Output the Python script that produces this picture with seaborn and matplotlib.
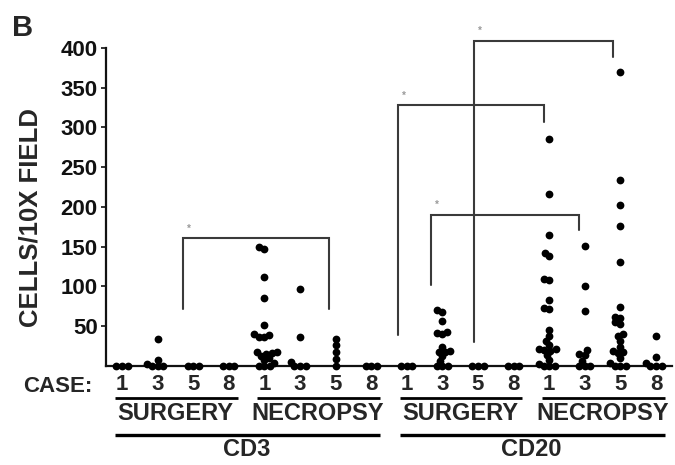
import matplotlib
matplotlib.use("Agg")
import matplotlib.pyplot as plt
import matplotlib.transforms as mtransforms
import numpy as np
import pandas as pd
import seaborn as sns

# ---- data: cells per 10X field, one list per marker / tissue source / case ----
cases = ["1", "3", "5", "8"]
markers = ["CD3", "CD20"]
sources = ["SURGERY", "NECROPSY"]

cd3_surgery_1 = [0, 0, 0]
cd3_surgery_3 = [34, 7, 3, 0, 0, 0]
cd3_surgery_5 = [0, 0, 0]
cd3_surgery_8 = [0, 0, 0]
cd3_necropsy_1 = [150, 147, 112, 86, 52, 40, 39, 37, 36, 18, 17, 16, 15, 12, 10, 7, 4, 0, 0, 0]
cd3_necropsy_3 = [97, 36, 5, 0, 0, 0]
cd3_necropsy_5 = [34, 27, 18, 9, 0]
cd3_necropsy_8 = [0, 0, 0]

cd20_surgery_1 = [0, 0, 0]
cd20_surgery_3 = [70, 68, 57, 43, 42, 40, 24, 19, 18, 17, 12, 6, 0, 0, 0]
cd20_surgery_5 = [0, 0, 0]
cd20_surgery_8 = [0, 0, 0]
cd20_necropsy_1 = [286, 216, 165, 142, 138, 110, 108, 83, 73, 72, 45, 38, 32, 27,
                   22, 21, 20, 19, 14, 8, 3, 0, 0, 0]
cd20_necropsy_3 = [151, 100, 69, 20, 15, 14, 6, 0, 0, 0]
cd20_necropsy_5 = [370, 234, 203, 176, 131, 74, 62, 60, 55, 53, 40, 38, 32, 24,
                   19, 18, 16, 10, 4, 0, 0, 0]
cd20_necropsy_8 = [38, 11, 4, 0, 0, 0]

groups_values = [
    cd3_surgery_1, cd3_surgery_3, cd3_surgery_5, cd3_surgery_8,
    cd3_necropsy_1, cd3_necropsy_3, cd3_necropsy_5, cd3_necropsy_8,
    cd20_surgery_1, cd20_surgery_3, cd20_surgery_5, cd20_surgery_8,
    cd20_necropsy_1, cd20_necropsy_3, cd20_necropsy_5, cd20_necropsy_8,
]

# significance brackets: (left group, right group, bar height, left leg end, right leg end)
brackets = [
    (2, 6, 161, 72, 72),
    (8, 12, 328, 39, 307),
    (9, 13, 190, 102, 171),
    (10, 14, 409, 30, 389),
]
bracket_shift = [(-0.29, -0.19), (-0.25, -0.15), (-0.32, -0.16), (-0.11, -0.21)]

yticks = [50, 100, 150, 200, 250, 300, 350, 400]

# ---- tidy table ----
group_names = [f"{m} {s} {c}" for m in markers for s in sources for c in cases]
rows = []
for name, vals in zip(group_names, groups_values):
    for v in vals:
        rows.append({"group": name, "value": v})
df = pd.DataFrame(rows)

# ---- figure ----
sns.set_style("white")
plt.rcParams["font.family"] = ["Liberation Sans", "DejaVu Sans"]
plt.rcParams["font.weight"] = "bold"

fig = plt.figure(figsize=(6.75, 4.65), dpi=100)
ax = fig.add_axes([106 / 675, 99 / 465, 566 / 675, 346 / 465])

# swarm laid out with a compact marker so neighbouring dots overlap a little
sns.swarmplot(data=df, x="group", y="value", order=group_names, color="black",
              size=3.8, ax=ax, warn_thresh=1.0)

ax.set_xlim(-0.45, 15.45)
ax.set_ylim(0, 435)

# axes styling
for side in ("top", "right"):
    ax.spines[side].set_visible(False)
ax.spines["left"].set_bounds(0, 400)
ax.spines["left"].set_linewidth(1.6)
ax.spines["bottom"].set_linewidth(1.6)
ax.spines["left"].set_color("#111111")
ax.spines["bottom"].set_color("#111111")

ax.set_yticks(yticks)
ax.set_yticklabels([str(t) for t in yticks])
ax.tick_params(axis="y", direction="out", length=3.5, width=1.2, pad=2.5,
               labelsize=16, colors="#111111", left=True)
for lbl in ax.get_yticklabels():
    lbl.set_fontweight("bold")

ax.set_xticks(range(len(group_names)))
ax.set_xticklabels(cases * 4)
ax.tick_params(axis="x", length=0, pad=6, labelsize=16)
for lbl in ax.get_xticklabels():
    lbl.set_fontweight("bold")
ax.set_xlabel("")

ax.set_ylabel("CELLS/10X FIELD", fontsize=18.5, fontweight="bold")
ax.yaxis.set_label_coords(-0.112, 0.43)

# brackets with significance marks
bcol = "#3a3a3a"
for (g1, g2, top, l_end, r_end), (s1, s2) in zip(brackets, bracket_shift):
    x1, x2 = g1 + s1, g2 + s2
    ax.plot([x1, x1, x2, x2], [l_end, top, top, r_end], color=bcol, lw=1.5,
            solid_joinstyle="miter", clip_on=False, zorder=1)
    ax.text(x1 + 0.17, top + 12, "*", color="#9a9a9a", fontsize=7,
            ha="center", va="center")

# group labels beneath the case numbers
trans = mtransforms.blended_transform_factory(ax.transData, ax.transAxes)
ax.text(-0.84, -0.058, "CASE:", transform=trans, ha="right", va="center",
        fontsize=16, fontweight="bold")

for gi in range(4):
    start = gi * 4
    end = start + 3
    ax.plot([start - 0.2, end + 0.25], [-0.0925, -0.0925], transform=trans,
            color="black", lw=2.0, clip_on=False, solid_capstyle="butt")
    ax.text((start + end) / 2, -0.137, sources[gi % 2], transform=trans,
            ha="center", va="center", fontsize=17, fontweight="bold")

for mi, m in enumerate(markers):
    start = mi * 8
    end = start + 7
    ax.plot([start - 0.2, end + 0.25], [-0.199, -0.199], transform=trans,
            color="black", lw=2.4, clip_on=False, solid_capstyle="butt")
    ax.text((start + end) / 2, -0.24, m, transform=trans, ha="center",
            va="center", fontsize=17, fontweight="bold")

fig.text(12 / 675, 1 - 28 / 465, "B", fontsize=21, fontweight="bold",
         ha="left", va="center")

# fix the swarm positions, then enlarge the dots for display
fig.canvas.draw()
for coll in ax.collections:
    if "draw" in coll.__dict__:
        del coll.draw
    coll.set_sizes([5.6 ** 2])
    coll.set_clip_on(False)

fig.savefig("out.png", dpi=100)
